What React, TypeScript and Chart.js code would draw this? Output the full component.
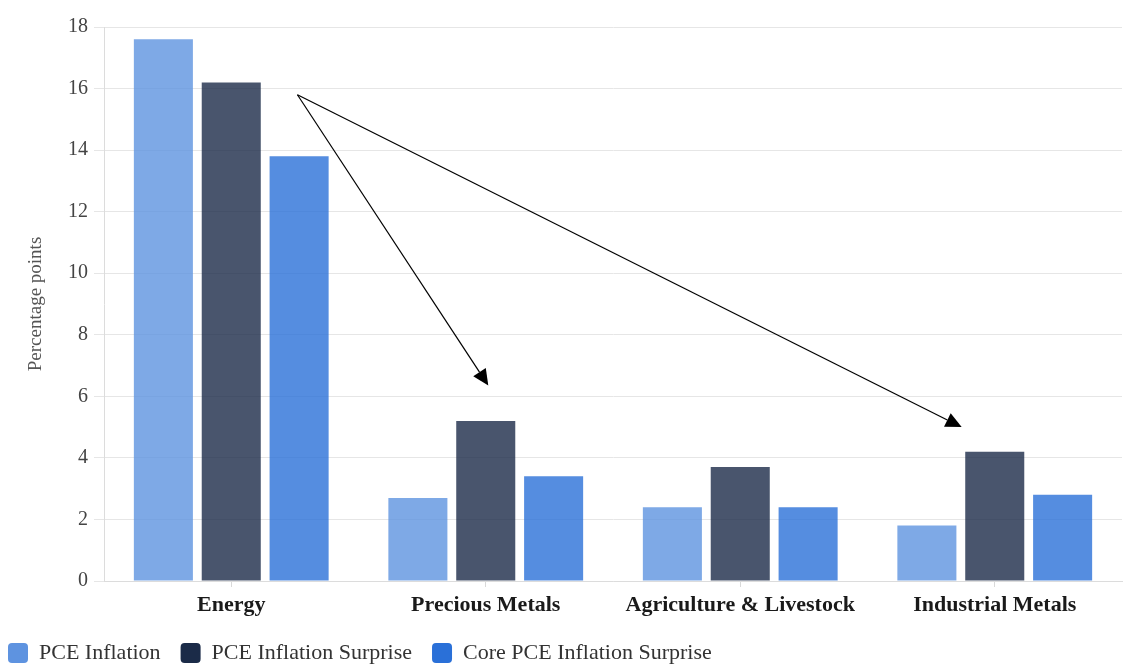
import { useEffect, useRef } from "react";
import { Chart, registerables } from "chart.js";

Chart.register(...registerables);

// Commodity groups on the x axis
const categories = ["Energy", "Precious Metals", "Agriculture & Livestock", "Industrial Metals"];

// Series values, percentage points
const pceInflation = [17.6, 2.7, 2.4, 1.8];
const pceInflationSurprise = [16.2, 5.2, 3.7, 4.2];
const corePceInflationSurprise = [13.8, 3.4, 2.4, 2.8];

const seriesNames = ["PCE Inflation", "PCE Inflation Surprise", "Core PCE Inflation Surprise"];
const seriesColors = ["#5e93e0", "#1b2b48", "#2a70d8"];

// Y axis
const yTitle = "Percentage points";
const yMin = 0;
const yMax = 18;
const yStep = 2;

// Arrow annotations in data space: [category index, value]
const arrowFrom = [0.26, 15.8];
const arrowTargets = [
  [1.01, 6.35],
  [2.87, 5.0],
];

const FONT = "'Liberation Serif', 'Times New Roman', serif";

function withAlpha(hex: string, a: number) {
  const n = parseInt(hex.slice(1), 16);
  return `rgba(${(n >> 16) & 255}, ${(n >> 8) & 255}, ${n & 255}, ${a})`;
}

const arrowPlugin = {
  id: "arrowAnnotations",
  afterDatasetsDraw(chart: any) {
    const { ctx, scales } = chart;
    const xs = scales.x;
    const ys = scales.y;
    const sx = xs.getPixelForValue(arrowFrom[0]);
    const sy = ys.getPixelForValue(arrowFrom[1]);
    ctx.save();
    ctx.strokeStyle = "#000";
    ctx.fillStyle = "#000";
    ctx.lineWidth = 1.2;
    for (const t of arrowTargets) {
      const ex = xs.getPixelForValue(t[0]);
      const ey = ys.getPixelForValue(t[1]);
      const ang = Math.atan2(ey - sy, ex - sx);
      const headLen = 16;
      const headHalf = 7.5;
      const bx = ex - headLen * Math.cos(ang);
      const by = ey - headLen * Math.sin(ang);
      ctx.beginPath();
      ctx.moveTo(sx, sy);
      ctx.lineTo(bx, by);
      ctx.stroke();
      ctx.beginPath();
      ctx.moveTo(ex, ey);
      ctx.lineTo(bx + headHalf * Math.sin(ang), by - headHalf * Math.cos(ang));
      ctx.lineTo(bx - headHalf * Math.sin(ang), by + headHalf * Math.cos(ang));
      ctx.closePath();
      ctx.fill();
    }
    ctx.restore();
  },
};

export default function App() {
  const canvasRef = useRef<HTMLCanvasElement | null>(null);

  useEffect(() => {
    const canvas = canvasRef.current;
    if (!canvas) return;
    const seriesValues = [pceInflation, pceInflationSurprise, corePceInflationSurprise];

    const chart = new Chart(canvas, {
      type: "bar",
      data: {
        labels: categories,
        datasets: seriesNames.map((name, i) => ({
          label: name,
          data: seriesValues[i],
          backgroundColor: withAlpha(seriesColors[i], 0.8),
          borderWidth: 0,
          barPercentage: 0.87,
          categoryPercentage: 0.8,
        })),
      },
      options: {
        responsive: false,
        animation: false,
        layout: { padding: { left: -12, right: 12, top: 27, bottom: -10 } },
        plugins: {
          tooltip: { enabled: false },
          legend: {
            position: "bottom",
            align: "start",
            labels: {
              boxWidth: 20,
              boxHeight: 20,
              padding: 20,
              useBorderRadius: true,
              borderRadius: 4,
              color: "#333",
              font: { family: FONT, size: 22 },
              generateLabels(chart: any) {
                const items = Chart.defaults.plugins.legend.labels.generateLabels(chart);
                return items.map((it: any, i: number) => ({
                  ...it,
                  fillStyle: seriesColors[i],
                  strokeStyle: seriesColors[i],
                  lineWidth: 0,
                  borderRadius: 4,
                }));
              },
            },
          },
        },
        scales: {
          x: {
            grid: {
              display: true,
              drawOnChartArea: false,
              drawTicks: true,
              tickLength: 6,
              offset: false,
              color: "#d9d9d9",
            },
            border: { color: "#dcdcdc" },
            ticks: {
              color: "#1a1a1a",
              padding: 5,
              maxRotation: 0,
              font: { family: FONT, size: 22, weight: "bold" },
            },
            afterFit(scale: any) {
              scale.height = 41;
            },
          },
          y: {
            min: yMin,
            max: yMax,
            ticks: {
              stepSize: yStep,
              color: "#444",
              padding: 6,
              font: { family: FONT, size: 20 },
            },
            grid: { color: "#e6e6e6", tickLength: 10 },
            border: { color: "#dcdcdc" },
            title: {
              display: true,
              text: yTitle,
              color: "#555",
              padding: { top: 37, bottom: 0 },
              font: { family: FONT, size: 19 },
            },
            afterFit(scale: any) {
              scale.width = 116;
            },
          },
        },
      },
      plugins: [arrowPlugin],
    });

    return () => chart.destroy();
  }, []);

  return (
    <div style={{ position: "fixed", left: 0, top: 0, width: 1134, height: 664, background: "#fff" }}>
      <canvas ref={canvasRef} width={1134} height={664} />
    </div>
  );
}
